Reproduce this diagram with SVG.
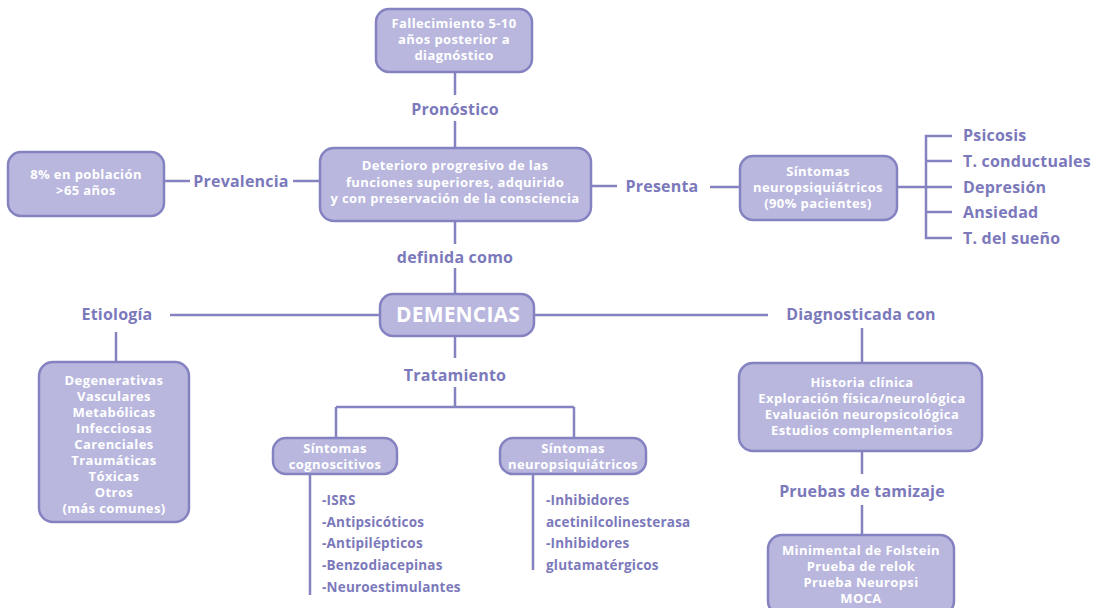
<svg xmlns="http://www.w3.org/2000/svg" width="1100" height="608" viewBox="0 0 1100 608">
<style>
.box{fill:#b9b7de;stroke:#8482c0;stroke-width:2.5}
.bt{font-family:"Open Sans","Liberation Sans",sans-serif;font-weight:700;font-size:13px;letter-spacing:0.4px;fill:#ffffff;text-anchor:middle}
.lb{font-family:"Open Sans","Liberation Sans",sans-serif;font-weight:700;font-size:16px;letter-spacing:0.2px;fill:#7b79bb;text-anchor:middle}
.it{font-family:"Open Sans","Liberation Sans",sans-serif;font-weight:700;font-size:13.5px;letter-spacing:0.2px;fill:#7b79bb}
.ln{stroke:#8482c0;stroke-width:2.5;fill:none}
</style>
<rect width="1100" height="608" fill="#ffffff"/>
<g id="connectors">
<path class="ln" d="M455 72V95M455 121V148M455 222V244M455 268V294"/>
<path class="ln" d="M165 181H190M293 181H320"/>
<path class="ln" d="M590 186H617M710 187H740"/>
<path class="ln" d="M897 187H926M952 136H926V238H952M926 161H952M926 187H952M926 212H952"/>
<path class="ln" d="M170 315H380M116 332V362M534 315H768"/>
<path class="ln" d="M455 336V358M455 387V407M336 407H574M336 407V440M574 407V440"/>
<path class="ln" d="M310 475V595M533 475V570"/>
<path class="ln" d="M862 328V363M862 451V474M862 505V535"/>
</g>
<g id="n-fallecimiento">
<rect class="box" x="376" y="9" width="156" height="63" rx="13"/>
<text class="bt" x="454" y="28">Fallecimiento 5-10</text>
<text class="bt" x="454" y="44">años posterior a</text>
<text class="bt" x="454" y="60">diagnóstico</text>
</g>
<g id="l-pronostico"><text class="lb" x="455" y="115">Pronóstico</text></g>
<g id="n-prevalencia-box">
<rect class="box" x="8" y="152" width="156" height="64" rx="13"/>
<text class="bt" x="86" y="179">8% en población</text>
<text class="bt" x="86" y="195">&gt;65 años</text>
</g>
<g id="l-prevalencia"><text class="lb" x="241" y="187">Prevalencia</text></g>
<g id="n-deterioro">
<rect class="box" x="320" y="148" width="271" height="73" rx="14"/>
<text class="bt" x="455" y="170">Deterioro progresivo de las</text>
<text class="bt" x="455" y="187">funciones superiores, adquirido</text>
<text class="bt" x="455" y="203">y con preservación de la consciencia</text>
</g>
<g id="l-definida"><text class="lb" x="455" y="263">definida como</text></g>
<g id="l-presenta"><text class="lb" x="662" y="192">Presenta</text></g>
<g id="n-sintomas-np">
<rect class="box" x="740" y="156" width="157" height="64" rx="13"/>
<text class="bt" x="818" y="176">Síntomas</text>
<text class="bt" x="818" y="192">neuropsiquiátricos</text>
<text class="bt" x="818" y="208">(90% pacientes)</text>
</g>
<g id="n-lista-np">
<text class="lb" x="963" y="141" style="text-anchor:start">Psicosis</text>
<text class="lb" x="963" y="167" style="text-anchor:start">T. conductuales</text>
<text class="lb" x="963" y="193" style="text-anchor:start">Depresión</text>
<text class="lb" x="963" y="218" style="text-anchor:start">Ansiedad</text>
<text class="lb" x="963" y="244" style="text-anchor:start">T. del sueño</text>
</g>
<g id="n-demencias">
<rect class="box" x="380" y="294" width="154" height="42" rx="13"/>
<text class="bt" x="458" y="322" style="font-size:21px;letter-spacing:0.2px">DEMENCIAS</text>
</g>
<g id="l-etiologia"><text class="lb" x="117" y="320">Etiología</text></g>
<g id="l-diagnosticada"><text class="lb" x="861" y="320">Diagnosticada con</text></g>
<g id="n-etiologia">
<rect class="box" x="39" y="362" width="150" height="160" rx="14"/>
<text class="bt" x="114" y="385">Degenerativas</text>
<text class="bt" x="114" y="401">Vasculares</text>
<text class="bt" x="114" y="417">Metabólicas</text>
<text class="bt" x="114" y="433">Infecciosas</text>
<text class="bt" x="114" y="449">Carenciales</text>
<text class="bt" x="114" y="465">Traumáticas</text>
<text class="bt" x="114" y="481">Tóxicas</text>
<text class="bt" x="114" y="497">Otros</text>
<text class="bt" x="114" y="513">(más comunes)</text>
</g>
<g id="l-tratamiento"><text class="lb" x="455" y="381">Tratamiento</text></g>
<g id="n-cognoscitivos">
<rect class="box" x="273" y="438" width="124" height="36" rx="13"/>
<text class="bt" x="335" y="453">Síntomas</text>
<text class="bt" x="335" y="469">cognoscitivos</text>
</g>
<g id="n-neuropsiq">
<rect class="box" x="500" y="438" width="146" height="36" rx="13"/>
<text class="bt" x="573" y="453">Síntomas</text>
<text class="bt" x="573" y="469">neuropsiquiátricos</text>
</g>
<g id="n-lista-cog">
<text class="it" x="322" y="505">-ISRS</text>
<text class="it" x="322" y="527">-Antipsicóticos</text>
<text class="it" x="322" y="548">-Antipilépticos</text>
<text class="it" x="322" y="570">-Benzodiacepinas</text>
<text class="it" x="322" y="592">-Neuroestimulantes</text>
</g>
<g id="n-lista-neuro">
<text class="it" x="546" y="505">-Inhibidores</text>
<text class="it" x="546" y="527">acetinilcolinesterasa</text>
<text class="it" x="546" y="548">-Inhibidores</text>
<text class="it" x="546" y="570">glutamatérgicos</text>
</g>
<g id="n-diagnostico">
<rect class="box" x="739" y="363" width="243" height="88" rx="14"/>
<text class="bt" x="862" y="387">Historia clínica</text>
<text class="bt" x="862" y="403">Exploración física/neurológica</text>
<text class="bt" x="862" y="419">Evaluación neuropsicológica</text>
<text class="bt" x="862" y="435">Estudios complementarios</text>
</g>
<g id="l-pruebas"><text class="lb" x="862" y="497">Pruebas de tamizaje</text></g>
<g id="n-pruebas">
<rect class="box" x="768" y="535" width="186" height="80" rx="14"/>
<text class="bt" x="861" y="555">Minimental de Folstein</text>
<text class="bt" x="861" y="571">Prueba de relok</text>
<text class="bt" x="861" y="587">Prueba Neuropsi</text>
<text class="bt" x="861" y="603">MOCA</text>
</g>
</svg>
